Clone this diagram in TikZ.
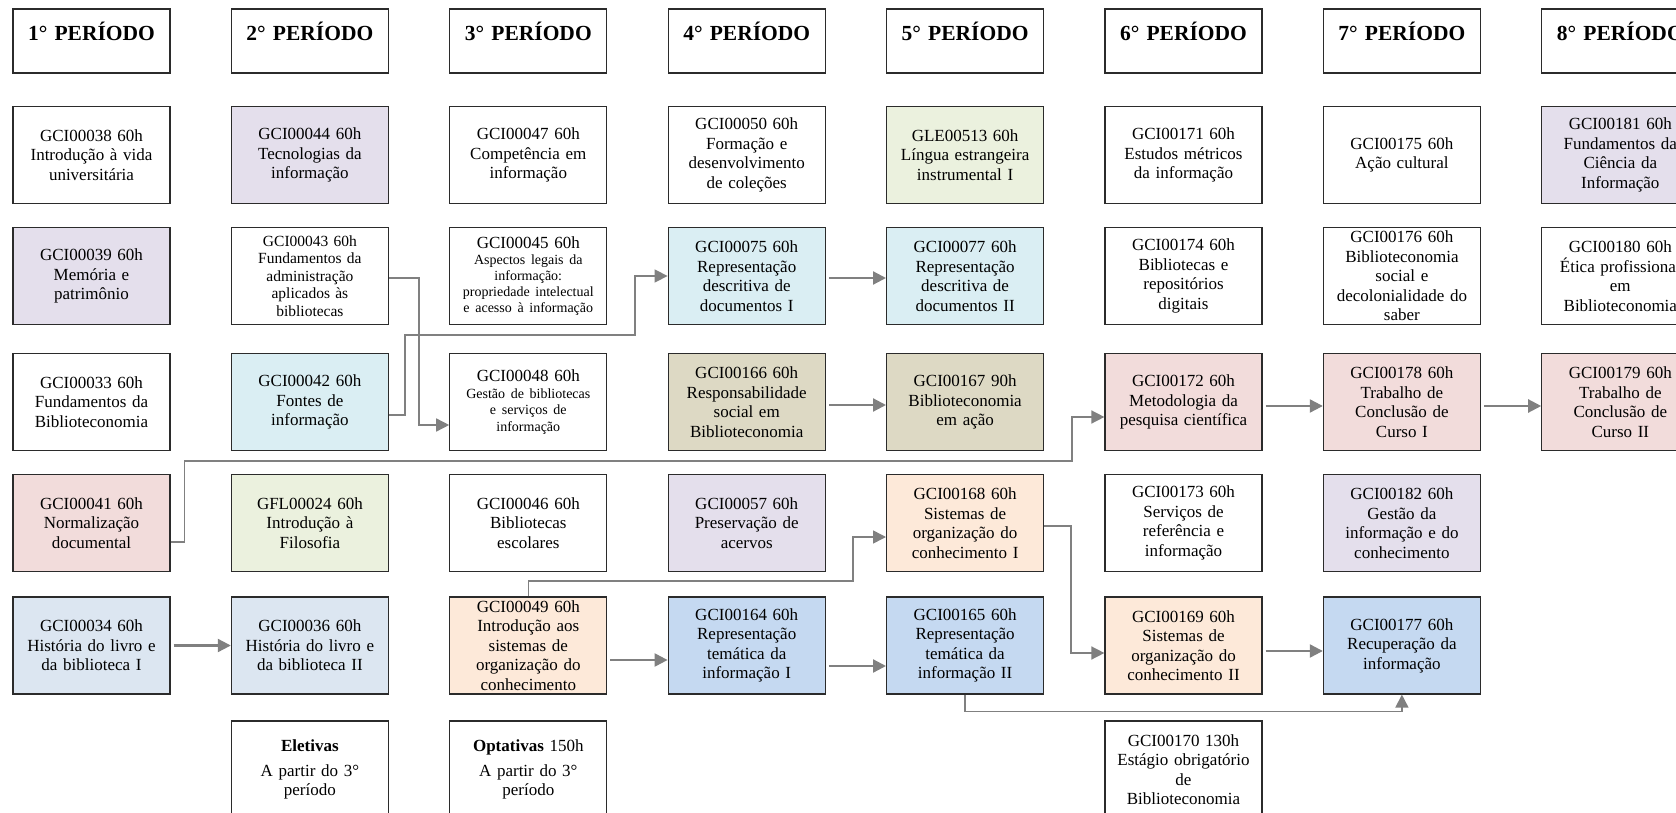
\documentclass[tikz,border=0pt]{standalone}
\usepackage{fontspec}
\setmainfont{Liberation Serif}
\usetikzlibrary{arrows.meta}
\definecolor{lav}{HTML}{E4DFEC}
\definecolor{lblue}{HTML}{DAEEF3}
\definecolor{pinkc}{HTML}{F2DCDB}
\definecolor{greenc}{HTML}{EBF1DE}
\definecolor{gblue}{HTML}{DCE6F1}
\definecolor{peach}{HTML}{FDE9D9}
\definecolor{bluec}{HTML}{C5D9F1}
\definecolor{tanc}{HTML}{DDD9C4}
\definecolor{conncol}{HTML}{808080}
\definecolor{bordc}{HTML}{2B2B2B}
\tikzset{
  box/.style={draw=bordc, line width=1.2pt, minimum width=157pt, minimum height=97pt,
    text width=151pt, align=center, inner sep=0pt, text=black,
    font=\fontsize{17}{19.5}\selectfont},
  head/.style={draw=bordc, line width=1.2pt, minimum width=157pt, text width=151pt,
    align=center, inner xsep=0pt, inner ysep=0pt, text height=31.5pt, text depth=32.5pt,
    font=\bfseries\fontsize{21.5}{24}\selectfont},
  conn/.style={draw=conncol, line width=2.2pt, -{Triangle[length=13pt,width=13pt]}, shorten <=3pt},
  elbow/.style={draw=conncol, line width=1.5pt, -{Triangle[length=13pt,width=13pt]}},
  lavbox/.style={box, fill=lav},
  lbluebox/.style={box, fill=lblue},
  pinkbox/.style={box, fill=pinkc},
  greenbox/.style={box, fill=greenc},
  gbluebox/.style={box, fill=gblue},
  peachbox/.style={box, fill=peach},
  bluebox/.style={box, fill=bluec},
  tanbox/.style={box, fill=tanc},
}
\begin{document}
\begin{tikzpicture}[x=1pt,y=-1pt]
\useasboundingbox (0,0) rectangle (1676,813);
\fill[white] (0,0) rectangle (1676,813);
\clip (0,0) rectangle (1676,813);

% headers
\node[head] (h1) at (91.5,41) {1° PERÍODO};
\node[head] (h2) at (309.9,41) {2° PERÍODO};
\node[head] (h3) at (528.3,41) {3° PERÍODO};
\node[head] (h4) at (746.7,41) {4° PERÍODO};
\node[head] (h5) at (965.1,41) {5° PERÍODO};
\node[head] (h6) at (1183.5,41) {6° PERÍODO};
\node[head] (h7) at (1401.9,41) {7° PERÍODO};
\node[head] (h8) at (1620.3,41) {8° PERÍODO};

% column 1
\node[box] (c1r1) at (91.5,155) {GCI00038 60h\\Introdução à vida\\universitária};
\node[lavbox] (c1r2) at (91.5,276) {GCI00039 60h\\Memória e\\patrimônio};
\node[box] (c1r3) at (91.5,402) {GCI00033 60h\\Fundamentos da\\Biblioteconomia};
\node[pinkbox] (c1r4) at (91.5,523) {GCI00041 60h\\Normalização\\documental};
\node[gbluebox] (c1r5) at (91.5,645.5) {GCI00034 60h\\História do livro e\\da biblioteca I};

% column 2
\node[lavbox] (c2r1) at (309.9,155) {GCI00044 60h\\Tecnologias da\\informação};
\node[box, font=\fontsize{15.5}{17.5}\selectfont] (c2r2) at (309.9,276) {GCI00043 60h\\Fundamentos da\\administração\\aplicados às\\bibliotecas};
\node[lbluebox] (c2r3) at (309.9,402) {GCI00042 60h\\Fontes de\\informação};
\node[greenbox] (c2r4) at (309.9,523) {GFL00024 60h\\Introdução à\\Filosofia};
\node[gbluebox] (c2r5) at (309.9,645.5) {GCI00036 60h\\História do livro e\\da biblioteca II};
\node[box] (c2r6) at (309.9,769.5) {\textbf{Eletivas}\par\vspace{5pt}A partir do 3°\\período};

% column 3
\node[box] (c3r1) at (528.3,155) {GCI00047 60h\\Competência em\\informação};
\node[box] (c3r2) at (528.3,276) {GCI00045 60h\par{\fontsize{14}{16}\selectfont Aspectos legais da\\informação:\\propriedade intelectual\\e acesso à informação\par}};
\node[box] (c3r3) at (528.3,402) {GCI00048 60h\par{\fontsize{14}{16.5}\selectfont Gestão de bibliotecas\\e serviços de\\informação\par}};
\node[box] (c3r4) at (528.3,523) {GCI00046 60h\\Bibliotecas\\escolares};
\node[peachbox] (c3r5) at (528.3,645.5) {GCI00049 60h\\Introdução aos\\sistemas de\\organização do\\conhecimento};
\node[box] (c3r6) at (528.3,769.5) {\textbf{Optativas} 150h\par\vspace{5pt}A partir do 3°\\período};

% column 4
\node[box] (c4r1) at (746.7,155) {GCI00050 60h\\Formação e\\desenvolvimento\\de coleções};
\node[lbluebox] (c4r2) at (746.7,276) {GCI00075 60h\\Representação\\descritiva de\\documentos I};
\node[tanbox] (c4r3) at (746.7,402) {GCI00166 60h\\Responsabilidade\\social em\\Biblioteconomia};
\node[lavbox] (c4r4) at (746.7,523) {GCI00057 60h\\Preservação de\\acervos};
\node[bluebox] (c4r5) at (746.7,645.5) {GCI00164 60h\\Representação\\temática da\\informação I};

% column 5
\node[greenbox] (c5r1) at (965.1,155) {GLE00513 60h\\Língua estrangeira\\instrumental I};
\node[lbluebox] (c5r2) at (965.1,276) {GCI00077 60h\\Representação\\descritiva de\\documentos II};
\node[tanbox] (c5r3) at (965.1,402) {GCI00167 90h\\Biblioteconomia\\em ação};
\node[peachbox] (c5r4) at (965.1,523) {GCI00168 60h\\Sistemas de\\organização do\\conhecimento I};
\node[bluebox] (c5r5) at (965.1,645.5) {GCI00165 60h\\Representação\\temática da\\informação II};

% column 6
\node[box] (c6r1) at (1183.5,155) {GCI00171 60h\\Estudos métricos\\da informação};
\node[box] (c6r2) at (1183.5,276) {GCI00174 60h\\Bibliotecas e\\repositórios\\digitais};
\node[pinkbox] (c6r3) at (1183.5,402) {GCI00172 60h\\Metodologia da\\pesquisa científica};
\node[box] (c6r4) at (1183.5,523) {GCI00173 60h\\Serviços de\\referência e\\informação};
\node[peachbox] (c6r5) at (1183.5,645.5) {GCI00169 60h\\Sistemas de\\organização do\\conhecimento II};
\node[box] (c6r6) at (1183.5,769.5) {GCI00170 130h\\Estágio obrigatório\\de\\Biblioteconomia};

% column 7
\node[box] (c7r1) at (1401.9,155) {GCI00175 60h\\Ação cultural};
\node[box] (c7r2) at (1401.9,276) {GCI00176 60h\\Biblioteconomia\\social e\\decolonialidade do\\saber};
\node[pinkbox] (c7r3) at (1401.9,402) {GCI00178 60h\\Trabalho de\\Conclusão de\\Curso I};
\node[lavbox] (c7r4) at (1401.9,523) {GCI00182 60h\\Gestão da\\informação e do\\conhecimento};
\node[bluebox] (c7r5) at (1401.9,645.5) {GCI00177 60h\\Recuperação da\\informação};

% column 8
\node[lavbox] (c8r1) at (1620.3,155) {GCI00181 60h\\Fundamentos da\\Ciência da\\Informação};
\node[box] (c8r2) at (1620.3,276) {GCI00180 60h\\Ética profissional\\em\\Biblioteconomia};
\node[pinkbox] (c8r3) at (1620.3,402) {GCI00179 60h\\Trabalho de\\Conclusão de\\Curso II};

% helper coordinates for bends
\coordinate (k1) at (635,335);
\coordinate (k2) at (1072,461);
\coordinate (k3) at (853,581);

% straight arrows
\draw[conn] (c1r5.east) -- (c2r5.west);
\draw[conn] ([yshift=-2pt]c4r2.east) -- ([yshift=-2pt]c5r2.west);
\draw[conn] ([yshift=-3pt]c4r3.east) -- ([yshift=-3pt]c5r3.west);
\draw[conn] ([yshift=-4pt]c6r3.east) -- ([yshift=-4pt]c7r3.west);
\draw[conn] ([yshift=-4pt]c7r3.east) -- ([yshift=-4pt]c8r3.west);
\draw[conn] ([yshift=-14.5pt]c3r5.east) -- ([yshift=-14.5pt]c4r5.west);
\draw[conn] ([yshift=-20.5pt]c4r5.east) -- ([yshift=-20.5pt]c5r5.west);
\draw[conn] ([yshift=-5.5pt]c6r5.east) -- ([yshift=-5.5pt]c7r5.west);

% elbow connectors
\draw[elbow] ([yshift=-2pt]c2r2.east) -- ++(30,0) |- ([yshift=-23pt]c3r3.west);
\draw[elbow] ([yshift=-13pt]c2r3.east) -- ++(16,0) |- (k1) |- (c4r2.west);
\draw[elbow] ([yshift=-19pt]c1r4.east) -- ++(14,0) |- (k2) |- ([yshift=-15pt]c6r3.west);
\draw[elbow] (c3r5.north) |- (k3) |- ([yshift=-14pt]c5r4.west);
\draw[elbow] ([yshift=-3pt]c5r4.east) -- ++(27,0) |- ([yshift=-7.5pt]c6r5.west);
\draw[elbow] (c5r5.south) -- ++(0,17) -| (c7r5.south);
\end{tikzpicture}
\end{document}
